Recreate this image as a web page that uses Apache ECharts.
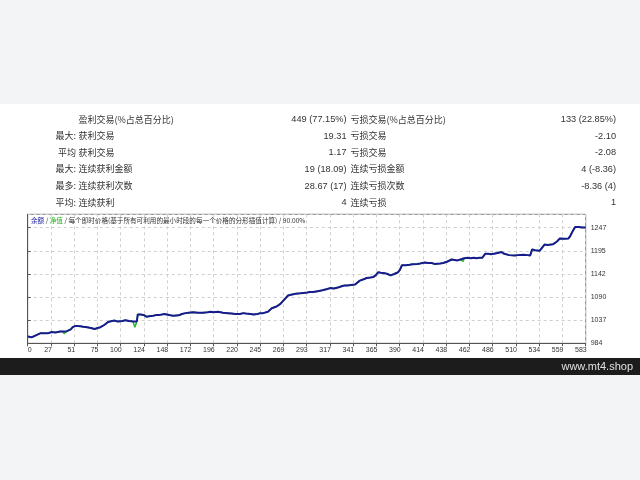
<!DOCTYPE html>
<html><head><meta charset="utf-8">
<script src="https://cdn.jsdelivr.net/npm/echarts@6/dist/echarts.min.js"></script>
<style>html,body{margin:0;padding:0;background:#f3f4f6;}#c{width:640px;height:480px;}</style>
</head><body><div id="c"></div>
<script>
// ---- data ----
const xTickLabels = ['0','27','51','75','100','124','148','172','196','220','245','269','293','317','341','365','390','414','438','462','486','510','534','559','583'];
const yTickLabels = ['984','1037','1090','1142','1195','1247'];
const tradeIdx = [0,2,4,6,8,10,13,15,17,19,21,23,25,27,29,31,34,36,37,39,41,43,45,47,48,50,52,55,58,60,62,64,66,68,70,73,76,78,80,82,84,86,88,91,93,94,96,99,102,104,106,108,110,112,114,115,118,121,124,127,131,135,138,140,143,145,149,152,154,158,161,163,165,168,170,173,175,178,180,183,185,188,191,194,196,199,201,204,206,209,211,213,215,217,219,222,225,228,230,233,236,238,240,243,246,248,251,253,255,257,260,262,264,266,269,272,275,277,280,282,285,288,292,295,298,300,303,305,308,310,313,316,318,320,322,325,328,331,334,336,338,340,342,344,347,349,351,354,356,358,361,364,366,369,371,373,376,379,381,383,385,387,389,391,393,395,397,399,402,404,407,410,412,415,418,420,422,425,427,431,434,436,438,440,443,445,449,452,454,456,458,460,463,466,469,472,475,478,481,484,487,489,491,493,495,498,500,503,505,509,512,514,518,522,525,527,530,532,535,537,540,543,545,549,551,553,556,558,561,563,565,567,569,572,574,576,579,581,583];
const balance = [1000,999,998,999,1002,1004,1007,1008,1007,1008,1007,1009,1010,1010,1009,1010,1011,1012,1011,1009,1012,1014,1016,1021,1024,1024,1024,1023,1022,1022,1021,1020,1019,1018,1017,1019,1021,1023,1026,1030,1033,1034,1035,1036,1035,1034,1032,1035,1037,1036,1035,1035,1034,1034,1034,1050,1050,1049,1045,1046,1047,1049,1049,1051,1051,1050,1048,1047,1046,1048,1051,1052,1053,1054,1055,1055,1054,1054,1053,1054,1055,1055,1056,1055,1055,1056,1055,1054,1054,1053,1053,1052,1052,1051,1050,1051,1053,1052,1052,1051,1050,1051,1051,1053,1053,1054,1056,1058,1064,1068,1068,1070,1074,1078,1086,1093,1095,1097,1097,1098,1098,1099,1100,1101,1101,1102,1103,1104,1105,1107,1108,1110,1109,1109,1110,1112,1114,1116,1116,1117,1117,1116,1118,1122,1127,1128,1130,1133,1133,1134,1135,1140,1146,1145,1145,1144,1142,1139,1140,1142,1144,1146,1152,1162,1161,1162,1162,1163,1164,1165,1165,1166,1166,1168,1167,1166,1167,1165,1164,1166,1167,1168,1170,1172,1175,1174,1173,1175,1177,1178,1181,1179,1178,1179,1178,1179,1179,1188,1188,1187,1188,1189,1190,1190,1192,1188,1184,1185,1185,1184,1185,1186,1186,1185,1184,1198,1196,1194,1195,1194,1209,1208,1209,1210,1213,1216,1223,1222,1222,1223,1223,1229,1238,1249,1249,1249,1248,1247,1248];
const equityDipIdx = [38, 112, 180, 235, 455];
const equityDipVal = [1006, 1021, 1050, 1047, 1171];
const tableLeftPrefix = ['', '最大:', '平均', '最大:', '最多:', '平均:'];
const tableLeftLabel = ['盈利交易(%占总百分比)', '获利交易', '获利交易', '连续获利金额', '连续获利次数', '连续获利'];
const tableLeftValue = ['449 (77.15%)', '19.31', '1.17', '19 (18.09)', '28.67 (17)', '4'];
const tableRightLabel = ['亏损交易(%占总百分比)', '亏损交易', '亏损交易', '连续亏损金额', '连续亏损次数', '连续亏损'];
const tableRightValue = ['133 (22.85%)', '-2.10', '-2.08', '4 (-8.36)', '-8.36 (4)', '1'];

// ---- build ----
const balData = tradeIdx.map((x, i) => [x, balance[i]]);
const eqData = balData.slice();
equityDipIdx.forEach((x, k) => eqData.push([x, equityDipVal[k]]));
eqData.sort((a, b) => a[0] - b[0]);

const xInterval = 583 / 24;
const yMin = 984.35, yInterval = 52.6, yMax = 1277.9;

const cjk = '"Noto Sans CJK SC", sans-serif';
const lat = '"Liberation Sans", Arial, sans-serif';
const rowY = [119.3, 136, 152.7, 169, 186, 202.7];
const graphics = [
  { type: 'rect', z: -10, shape: { x: 0, y: 104, width: 640, height: 254 }, style: { fill: '#ffffff' } },
  { type: 'rect', z: -10, shape: { x: 0, y: 358, width: 640, height: 17 }, style: { fill: '#1c1c1c' } },
  { type: 'text', style: { text: 'www.mt4.shop', x: 633, y: 366.5, align: 'right', verticalAlign: 'middle', font: '11px ' + lat, fill: '#e0e0e0' } },
  { type: 'text', z: 10, style: { x: 31, y: 220.5, verticalAlign: 'middle', font: '6.6px ' + cjk, fill: '#333',
      text: '{b|余额} / {g|净值} / 每个即时价格(基于所有可利用的最小时段的每一个价格的分形插值计算) / 90.00%',
      rich: { b: { fill: '#2020a0', font: '6.6px ' + cjk }, g: { fill: '#20b020', font: '6.6px ' + cjk } } } }
];
rowY.forEach((y, i) => {
  const f = '9px ' + cjk;
  if (tableLeftPrefix[i]) graphics.push({ type: 'text', style: { text: tableLeftPrefix[i], x: 76, y, align: 'right', verticalAlign: 'middle', font: f, fill: '#333' } });
  graphics.push({ type: 'text', style: { text: tableLeftLabel[i], x: 78.5, y, align: 'left', verticalAlign: 'middle', font: f, fill: '#333' } });
  graphics.push({ type: 'text', style: { text: tableLeftValue[i], x: 346.5, y, align: 'right', verticalAlign: 'middle', font: '9.2px ' + lat, fill: '#333' } });
  graphics.push({ type: 'text', style: { text: tableRightLabel[i], x: 350.5, y, align: 'left', verticalAlign: 'middle', font: f, fill: '#333' } });
  graphics.push({ type: 'text', style: { text: tableRightValue[i], x: 616, y, align: 'right', verticalAlign: 'middle', font: '9.2px ' + lat, fill: '#333' } });
});

const chart = echarts.init(document.getElementById('c'), null, { renderer: 'canvas' });
chart.setOption({
  animation: false,
  backgroundColor: 'transparent',
  graphic: graphics,
  grid: { left: 27.7, right: 54.3, top: 214.3, bottom: 136.7, show: true, borderColor: '#808080', borderWidth: 1, backgroundColor: '#fff' },
  xAxis: {
    type: 'value', min: 0, max: 583, interval: xInterval,
    axisLine: { show: true, lineStyle: { color: '#555' } },
    axisTick: { show: true, length: 3, lineStyle: { color: '#555' } },
    axisLabel: { margin: 3, fontSize: 7, fontFamily: 'Liberation Sans', color: '#333', align: 'right', alignMinLabel: 'left', padding: [0, -1, 0, 0],
      formatter: v => xTickLabels[Math.round(v / xInterval)] || '' },
    splitLine: { show: true, lineStyle: { color: '#cfcfcf', type: [3, 3] } }
  },
  yAxis: {
    type: 'value', position: 'right', min: yMin, max: yMax, interval: yInterval,
    axisLine: { show: true, lineStyle: { color: '#555' } },
    axisTick: { show: true, length: 3, lineStyle: { color: '#555' } },
    axisLabel: { margin: 5, fontSize: 7, fontFamily: 'Liberation Sans', color: '#333', showMaxLabel: false,
      formatter: v => { const k = Math.round((v - yMin) / yInterval); return Math.abs(v - (yMin + k * yInterval)) < 0.01 ? (yTickLabels[k] || '') : ''; } },
    splitLine: { show: true, lineStyle: { color: '#cfcfcf', type: [3, 3] } }
  },
  series: [
    { name: '净值', type: 'line', data: eqData, showSymbol: false, lineStyle: { color: '#22bb22', width: 1.5 }, z: 2 },
    { name: '余额', type: 'line', data: balData, showSymbol: false, lineStyle: { color: '#1a1a90', width: 2 }, z: 3 }
  ]
});
</script></body></html>
